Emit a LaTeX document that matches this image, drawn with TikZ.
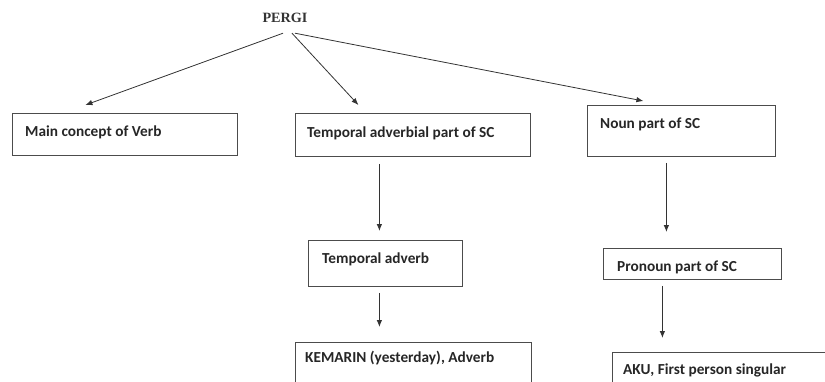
\documentclass[tikz,border=0pt]{standalone}
\usepackage{fontspec}
\setmainfont{Carlito}
\newfontfamily\serifbold{Liberation Serif}
\usetikzlibrary{arrows.meta}
\begin{document}
\begin{tikzpicture}[x=1pt,y=-1pt,
  box/.style={draw=black!70,line width=0.8pt,rectangle,inner sep=0pt,anchor=north west},
  txt/.style={font=\fontsize{15.3}{17}\selectfont\bfseries,text=black!85,inner sep=0pt,anchor=west},
  arr/.style={draw=black!80,line width=0.8pt,-{Latex[length=7pt,width=5.5pt]}}]
\useasboundingbox (0,0) rectangle (825,381);
\clip (0,0) rectangle (825,381);
\node[font=\serifbold\fontsize{14.2}{16}\selectfont\bfseries,text=black!80,inner sep=0pt,minimum height=10pt] (pergi) at (285,18) {PERGI};
% boxes
\node[box,minimum width=225pt,minimum height=42pt] (b1) at (12,113) {};
\node[box,minimum width=235pt,minimum height=43pt] (b2) at (295,113) {};
\node[box,minimum width=188pt,minimum height=51pt] (b3) at (587,105) {};
\node[box,minimum width=154pt,minimum height=46pt] (b4) at (308,240) {};
\node[box,minimum width=236pt,minimum height=80pt] (b5) at (295,342) {};
\node[box,minimum width=260pt,minimum height=80pt] (b7) at (612,352) {};
\node[box,minimum width=178pt,minimum height=31pt] (b6) at (603,248) {};
% texts
\node[txt] (t1) at (25,132) {Main concept of Verb};
\node[txt] (t2) at (307,133) {Temporal adverbial part of SC};
\node[txt] (t3) at (600,124) {Noun part of SC};
\node[txt] (t4) at (322,259) {Temporal adverb};
\node[txt] (t5) at (305,358) {KEMARIN (yesterday), Adverb};
\node[txt] (t6) at (617,267) {Pronoun part of SC};
\node[txt] (t7) at (623,370) {AKU, First person singular};
% connectors
\draw[arr] ([xshift=-2pt,yshift=-10pt]pergi.south) -- ([xshift=-39.5pt,yshift=8pt]b1.north);
\draw[arr] ([xshift=7pt,yshift=-10pt]pergi.south) -- ([xshift=-54.5pt,yshift=8pt]b2.north);
\draw[arr] ([xshift=10pt,yshift=-10pt]pergi.south) -- ([xshift=-38pt,yshift=4pt]b3.north);
\draw[arr] ([xshift=-33.5pt,yshift=-7pt]b2.south) -- ([xshift=-6pt,yshift=9pt]b4.north);
\draw[arr] ([xshift=-6pt,yshift=-6pt]b4.south) -- ([xshift=-34pt,yshift=15pt]b5.north);
\draw[arr] ([xshift=-15pt,yshift=-6pt]b3.south) -- ([xshift=-26pt,yshift=16pt]b6.north);
\draw[arr] ([xshift=-30pt,yshift=-6pt]b6.south) -- ([xshift=-80pt,yshift=14pt]b7.north);
\end{tikzpicture}
\end{document}
